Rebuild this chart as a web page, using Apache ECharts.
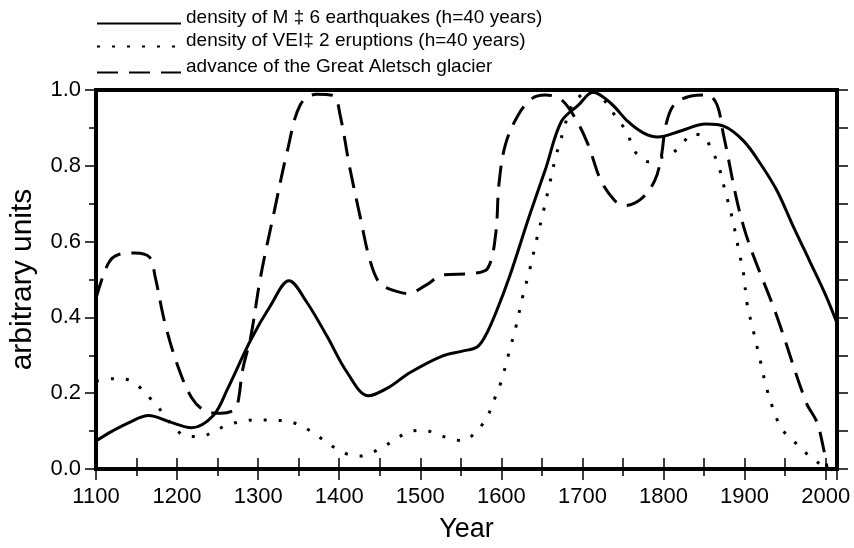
<!DOCTYPE html>
<html>
<head>
<meta charset="utf-8">
<script src="https://cdn.jsdelivr.net/npm/echarts@6/dist/echarts.min.js"></script>
<style>html,body{margin:0;padding:0;background:#fff;}#c{width:854px;height:548px;}</style>
</head>
<body>
<div id="c"></div>
<script>
var quakeName = 'density of M \u2021 6 earthquakes (h=40 years)';
var volcName = 'density of VEI\u2021 2 eruptions (h=40 years)';
var glacName = 'advance of the Great Aletsch glacier';

var quakeYears = [1100,1120,1140,1165,1190,1218,1245,1262,1291,1315,1338,1360,1385,1410,1436,1460,1487,1527,1552,1570,1580,1593,1610,1634,1655,1674,1695,1713,1735,1756,1775,1793,1820,1852,1875,1899,1920,1940,1960,1980,2000,2014];
var quakeVals  = [0.074,0.10,0.122,0.141,0.125,0.109,0.142,0.21,0.341,0.43,0.497,0.44,0.35,0.254,0.193,0.214,0.254,0.298,0.311,0.322,0.35,0.411,0.507,0.664,0.795,0.917,0.96,0.994,0.965,0.917,0.887,0.876,0.891,0.91,0.904,0.865,0.804,0.734,0.64,0.55,0.459,0.385];

var volcYears = [1100,1120,1136,1152,1164,1177,1187,1199,1213,1230,1246,1262,1279,1297,1313,1332,1348,1364,1379,1393,1409,1426,1442,1457,1471,1487,1504,1521,1538,1554,1568,1579,1587,1593,1600,1609,1618,1626,1635,1643,1651,1659,1667,1677,1684,1693,1706,1713,1730,1740,1754,1766,1781,1795,1810,1823,1836,1851,1858,1867,1876,1885,1892,1899,1903,1911,1919,1927,1936,1946,1960,1972,1987,1999,2010];
var volcVals  = [0.232,0.238,0.237,0.219,0.193,0.162,0.134,0.103,0.086,0.086,0.1,0.116,0.125,0.13,0.129,0.127,0.119,0.101,0.079,0.058,0.04,0.034,0.045,0.062,0.081,0.099,0.102,0.092,0.079,0.075,0.097,0.125,0.158,0.193,0.232,0.304,0.376,0.452,0.526,0.601,0.672,0.747,0.823,0.895,0.945,0.976,0.994,0.994,0.965,0.933,0.891,0.834,0.811,0.821,0.832,0.858,0.884,0.875,0.847,0.806,0.734,0.66,0.586,0.511,0.437,0.363,0.289,0.215,0.154,0.105,0.075,0.049,0.023,0.005,0.0];

var glacYears = [1100,1115,1128,1148,1166,1173,1185,1201,1218,1234,1254,1270,1275,1281,1291,1303,1320,1336,1352,1372,1393,1401,1413,1426,1438,1450,1466,1485,1507,1528,1564,1583,1593,1597,1605,1621,1638,1654,1674,1691,1707,1723,1740,1752,1772,1789,1797,1803,1813,1834,1854,1866,1874,1899,1940,1976,1989,1997,2002];
var glacVals  = [0.45,0.542,0.566,0.570,0.559,0.507,0.385,0.271,0.188,0.154,0.147,0.155,0.175,0.263,0.35,0.507,0.681,0.839,0.961,0.989,0.985,0.935,0.795,0.664,0.55,0.49,0.472,0.463,0.485,0.512,0.516,0.529,0.62,0.751,0.856,0.935,0.978,0.987,0.974,0.926,0.856,0.76,0.708,0.695,0.712,0.76,0.821,0.908,0.961,0.984,0.987,0.961,0.882,0.638,0.402,0.175,0.125,0.058,0.0];

var xTickLabels = ['1100','1200','1300','1400','1500','1600','1700','1800','1900','2000'];

function pairs(xs, ys){ return xs.map(function(x,i){ return [x, ys[i]]; }); }

var FONT = 'Liberation Sans, Arial, Helvetica, sans-serif';
var chart = echarts.init(document.getElementById('c'));

function legendAt(name, top){
  return {
    data: [name], left: 96, top: top, orient: 'vertical',
    itemWidth: 84, itemHeight: 14, selectedMode: false, padding: 0,
    itemStyle: { opacity: 0 },
    formatter: function(n){ return '{t|' + n + '}'; },
    textStyle: { fontFamily: FONT, fontSize: 19, color: '#000',
      rich: { t: { fontFamily: FONT, fontSize: 19, color: '#000', padding: [0, 0, 12, 0] } } }
  };
}

chart.setOption({
  animation: false,
  backgroundColor: '#fff',
  legend: [legendAt(quakeName, 8), legendAt(volcName, 31), legendAt(glacName, 57)],
  grid: { left: 90, right: 17, top: 90, bottom: 76, show: true, borderWidth: 4, borderColor: '#000', backgroundColor: 'transparent' },
  xAxis: [{
    type: 'value', min: 1100, max: 2014, interval: 100, position: 'bottom',
    axisLine: { show: false },
    axisTick: { show: true, length: 11, lineStyle: { color: '#000', width: 1.5 } },
    minorTick: { show: true, splitNumber: 2, length: 7, lineStyle: { color: '#000', width: 1.5 } },
    splitLine: { show: false }, minorSplitLine: { show: false },
    axisLabel: { color: '#000', fontFamily: FONT, fontSize: 22, margin: 17,
      formatter: function(v){ var s = String(v); return xTickLabels.indexOf(s) >= 0 ? s : ''; } },
    name: 'Year', nameLocation: 'middle', nameGap: 47,
    nameTextStyle: { color: '#000', fontFamily: FONT, fontSize: 27 }
  }, {
    type: 'value', min: 1100, max: 2014, interval: 50, position: 'top',
    axisLine: { show: false },
    axisTick: { show: true, length: 11, lineStyle: { color: '#000', width: 1.5 } },
    axisLabel: { show: false }, splitLine: { show: false }
  }],
  yAxis: [{
    type: 'value', min: 0, max: 1, interval: 0.2, position: 'left',
    axisLine: { show: false },
    axisTick: { show: true, length: 11, lineStyle: { color: '#000', width: 1.5 } },
    minorTick: { show: true, splitNumber: 2, length: 7, lineStyle: { color: '#000', width: 1.5 } },
    splitLine: { show: false }, minorSplitLine: { show: false },
    axisLabel: { color: '#000', fontFamily: FONT, fontSize: 22, margin: 15, formatter: function(v){ return v.toFixed(1); } },
    name: 'arbitrary units', nameLocation: 'middle', nameGap: 58,
    nameTextStyle: { color: '#000', fontFamily: FONT, fontSize: 30 }
  }, {
    type: 'value', min: 0, max: 1, interval: 0.1, position: 'right',
    axisLine: { show: false },
    axisTick: { show: true, length: 11, lineStyle: { color: '#000', width: 1.5 } },
    axisLabel: { show: false }, splitLine: { show: false }
  }],
  series: [{
    name: quakeName, type: 'line', data: pairs(quakeYears, quakeVals),
    showSymbol: false, symbol: 'none', smooth: 0.35,
    lineStyle: { color: '#000', width: 3, type: 'solid' }, itemStyle: { color: '#000' }
  }, {
    name: volcName, type: 'line', data: pairs(volcYears, volcVals),
    showSymbol: false, symbol: 'none', smooth: 0.35,
    lineStyle: { color: '#000', width: 3, type: [3, 12] }, itemStyle: { color: '#000' }
  }, {
    name: glacName, type: 'line', data: pairs(glacYears, glacVals),
    showSymbol: false, symbol: 'none', smooth: 0.35,
    lineStyle: { color: '#000', width: 3, type: [21, 11] }, itemStyle: { color: '#000' }
  }]
});
</script>
</body>
</html>
